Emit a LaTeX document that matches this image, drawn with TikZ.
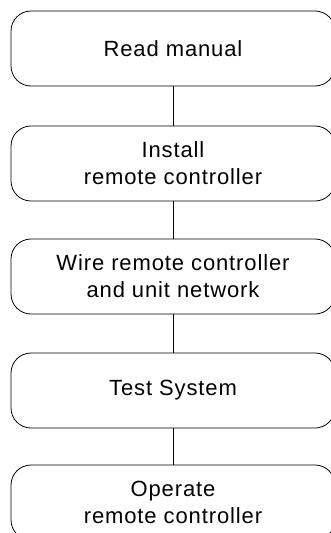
\documentclass[tikz,border=0pt]{standalone}
\usepackage{fontspec}
\setmainfont[LetterSpace=4]{Liberation Sans}
\usepackage{tikz}

\begin{document}
\begin{tikzpicture}[x=1pt,y=-1pt]
 	\tikzstyle{every node}+=[inner sep=0pt]
 	\tikzstyle{stepbox}=[draw=black, line width=0.8pt, rounded corners=20pt, minimum width=324pt, minimum height=75pt, align=center, font=\fontsize{22}{27}\selectfont]
 	\useasboundingbox (0,0) rectangle (331,533);
 	\node [stepbox] (read) at (173,48.5) {Read manual};
 	\node [stepbox] (install) at (173,163.5) {Install\\remote controller};
 	\node [stepbox] (wire) at (173,276.5) {Wire remote controller\\and unit network};
 	\node [stepbox] (test) at (173,390.5) {Test System};
 	\node [stepbox] (operate) at (173,502.5) {Operate\\remote controller};
 	\draw [black, line width=0.8pt] (read) -- (install);
 	\draw [black, line width=0.8pt] (install) -- (wire);
 	\draw [black, line width=0.8pt] (wire) -- (test);
 	\draw [black, line width=0.8pt] (test) -- (operate);
\end{tikzpicture}
\end{document}
